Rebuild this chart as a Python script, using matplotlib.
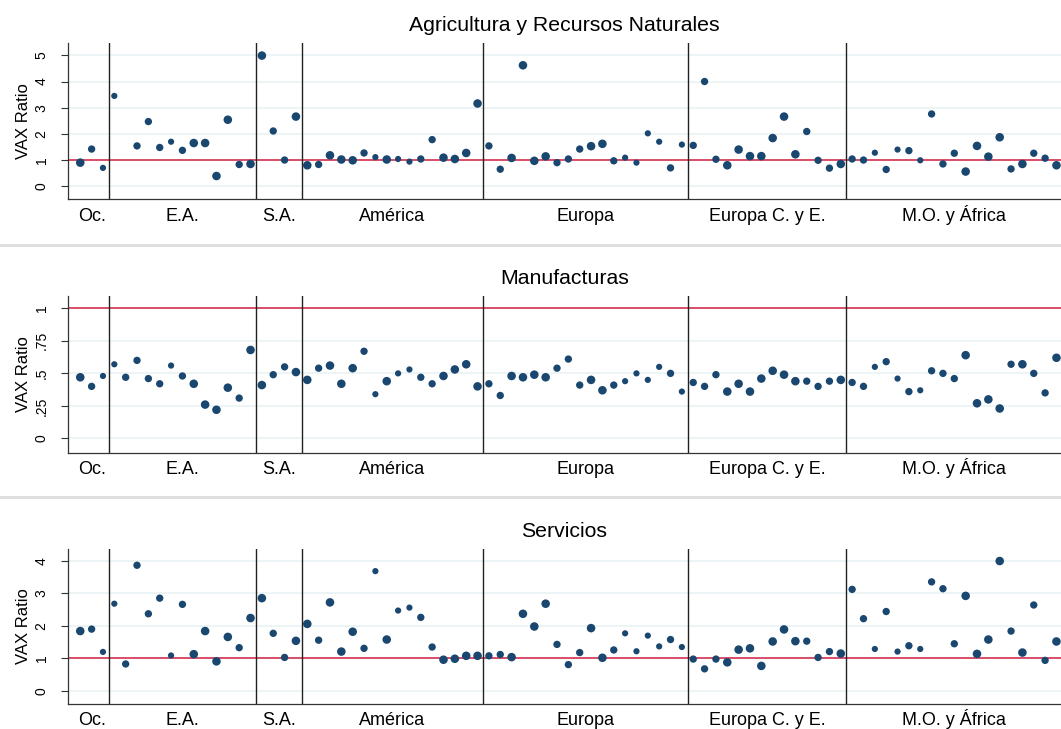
import numpy as np
import matplotlib.pyplot as plt

plt.rcParams['font.family'] = ['Liberation Sans', 'DejaVu Sans']

# regiones y numero de paises en cada una
regiones = ['Oc.', 'E.A.', 'S.A.', 'América', 'Europa', 'Europa C. y E.', 'M.O. y África']
n_paises = [3, 13, 4, 16, 18, 14, 19]

nan = np.nan
agricultura = [0.90, 1.42, 0.70, 3.45, nan, 1.54, 2.47, 1.48, 1.70, 1.37, 1.65, 1.65, 0.39, 2.54, 0.83, 0.85, 4.99, 2.11, 1.00, 2.66,
               0.80, 0.83, 1.18, 1.02, 0.99, 1.27, 1.11, 1.02, 1.04, 0.94, 1.04, 1.78, 1.09, 1.04, 1.27, 3.16,
               1.54, 0.65, 1.08, 4.62, 0.97, 1.14, 0.90, 1.04, 1.42, 1.53, 1.62, 0.97, 1.09, 0.90, 2.02, 1.70, 0.70, 1.59,
               1.56, 4.00, 1.03, 0.80, 1.40, 1.15, 1.15, 1.84, 2.66, 1.22, 2.09, 0.99, 0.69, 0.85,
               1.04, 1.00, 1.28, 0.64, 1.40, 1.36, 0.99, 2.76, 0.85, 1.26, 0.56, 1.54, 1.13, 1.87, 0.66, 0.85, 1.26, 1.07, 0.80]

manufacturas = [0.47, 0.40, 0.48, 0.57, 0.47, 0.60, 0.46, 0.42, 0.56, 0.48, 0.42, 0.26, 0.22, 0.39, 0.31, 0.68, 0.41, 0.49, 0.55, 0.51,
                0.45, 0.54, 0.56, 0.42, 0.54, 0.67, 0.34, 0.44, 0.50, 0.53, 0.47, 0.42, 0.48, 0.53, 0.57, 0.40,
                0.42, 0.33, 0.48, 0.47, 0.49, 0.47, 0.54, 0.61, 0.41, 0.45, 0.37, 0.41, 0.44, 0.50, 0.45, 0.55, 0.50, 0.36,
                0.43, 0.40, 0.49, 0.36, 0.42, 0.36, 0.46, 0.52, 0.49, 0.44, 0.44, 0.40, 0.44, 0.45,
                0.43, 0.40, 0.55, 0.59, 0.46, 0.36, 0.37, 0.52, 0.50, 0.46, 0.64, 0.27, 0.30, 0.23, 0.57, 0.57, 0.50, 0.35, 0.62]

servicios = [1.84, 1.90, 1.20, 2.68, 0.83, 3.86, 2.37, 2.85, 1.09, 2.66, 1.13, 1.84, 0.91, 1.66, 1.33, 2.24, 2.85, 1.77, 1.03, 1.54,
             2.06, 1.56, 2.72, 1.21, 1.82, 1.31, 3.68, 1.58, 2.47, 2.56, 2.26, 1.35, 0.96, 0.99, 1.08, 1.08,
             1.08, 1.12, 1.04, 2.37, 1.98, 2.68, 1.43, 0.81, 1.18, 1.93, 1.02, 1.26, 1.77, 1.22, 1.70, 1.37, 1.58, 1.35,
             0.98, 0.68, 0.98, 0.88, 1.27, 1.31, 0.77, 1.52, 1.89, 1.53, 1.53, 1.03, 1.21, 1.15,
             3.12, 2.22, 1.29, 2.44, 1.21, 1.39, 1.29, 3.35, 3.14, 1.45, 2.92, 1.14, 1.58, 3.99, 1.84, 1.18, 2.64, 0.94, 1.52]

# peso del pais (1 chico, 2 medio, 3 grande) -> tamano del marcador
peso = [3, 2, 1, 1, 2, 2, 2, 2, 1, 2, 3, 3, 3, 3, 2, 3, 3, 2, 2, 3,
        3, 2, 3, 3, 3, 2, 1, 3, 1, 1, 2, 2, 3, 3, 3, 3,
        2, 2, 3, 3, 3, 3, 2, 2, 2, 3, 3, 2, 1, 1, 1, 1, 2, 1,
        2, 2, 2, 3, 3, 3, 3, 3, 3, 3, 2, 2, 2, 3,
        2, 2, 1, 2, 1, 2, 1, 2, 2, 2, 3, 3, 3, 3, 2, 3, 2, 2, 3]

paneles = [
    ('Agricultura y Recursos Naturales', agricultura, (-0.5, 5.46), [0, 1, 2, 3, 4, 5], ['0', '1', '2', '3', '4', '5']),
    ('Manufacturas', manufacturas, (-0.11, 1.095), [0, 0.25, 0.5, 0.75, 1], ['0', '.25', '.5', '.75', '1']),
    ('Servicios', servicios, (-0.39, 4.35), [0, 1, 2, 3, 4], ['0', '1', '2', '3', '4']),
]

x = np.arange(sum(n_paises))
tam = {1: 20, 2: 28, 3: 38}
sizes = [tam[p] for p in peso]
limites = np.cumsum(n_paises)[:-1] - 0.5
inicios = np.concatenate([[0], np.cumsum(n_paises)[:-1]])
centros = inicios + (np.array(n_paises) - 1) / 2

fig = plt.figure(figsize=(10.61, 7.29), dpi=100)
W, H = 1061, 729
# (top px, bottom px) de cada panel
cajas = [(43.3, 199.3), (296, 452.7), (549.3, 703.7)]
left = 68 / W

for (titulo, vals, ylim, yt, ytl), (top, bot) in zip(paneles, cajas):
    ax = fig.add_axes([left, 1 - bot / H, 1 - left, (bot - top) / H])
    for yv in yt:
        ax.axhline(yv, color='#eaf2f3', lw=1.2, zorder=0)
    ax.axhline(1, color='#d9405e', lw=1.3, zorder=1)
    for b in limites:
        ax.axvline(b, color='#222222', lw=1.0, zorder=1)
    ax.scatter(x, vals, s=sizes, color='#1a476f', edgecolors='none', zorder=3)

    ax.set_xlim(-1.08, 86.4)
    ax.set_ylim(*ylim)
    ax.set_yticks(yt)
    ax.set_yticklabels(ytl, rotation=90, va='center', fontsize=10)
    ax.set_xticks([])
    # etiquetas de region alineadas por la linea base
    for c, reg in zip(centros, regiones):
        ax.annotate(reg, xy=(c, 0), xycoords=('data', 'axes fraction'),
                    xytext=(0, -15.5), textcoords='offset points',
                    ha='center', va='baseline', fontsize=13)
    ax.tick_params(axis='y', length=5, width=0.8, pad=9, color='#333333')
    ax.set_ylabel('VAX Ratio', fontsize=12)
    ax.yaxis.set_label_coords(-0.037, 0.5)
    for s in ['top', 'right']:
        ax.spines[s].set_visible(False)
    for s in ['left', 'bottom']:
        ax.spines[s].set_color('#333333')
        ax.spines[s].set_linewidth(0.9)
    fig.text((left + 1) / 2, 1 - (top - 18) / H, titulo, ha='center', va='center', fontsize=15.3)

# lineas grises que separan los paneles
for yp in [245, 497]:
    fig.add_artist(plt.Line2D([0, 1], [1 - yp / H, 1 - yp / H], color='#dddddd', lw=2))

fig.savefig('out.png', dpi=100)
